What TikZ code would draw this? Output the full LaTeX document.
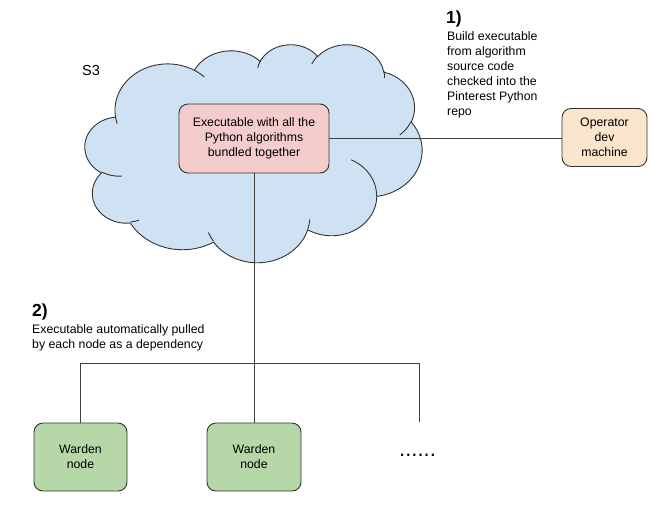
\documentclass[tikz,border=0pt]{standalone}
\usepackage{fontspec}
\setmainfont{Liberation Sans}

\definecolor{s3blue}{HTML}{CFE2F3}
\definecolor{exered}{HTML}{F4CCCC}
\definecolor{devorange}{HTML}{FCE5CD}
\definecolor{wardengreen}{HTML}{B6D7A8}
\newcommand\diagfont{\fontsize{12.3}{15}\selectfont}

\tikzset{
 declare function={cpar(\pw,\ph,\pa)=atan2(\pw*sin(\pa),\ph*cos(\pa));},
 puff/.style n args={4}{start angle={-cpar(#1,#2,#3)},
  delta angle={-mod(cpar(#1,#2,#3+#4)-cpar(#1,#2,#3)+720,360)},
  x radius={#1*0.7801pt}, y radius={#2*0.5046pt}},
 box/.style={draw=black!80,line width=0.9pt,rounded corners=9pt,align=center,font=\diagfont,inner sep=0pt},
 wire/.style={draw=black!75,line width=0.9pt},
 label/.style={inner sep=0pt,font=\diagfont},
}

\begin{document}
\begin{tikzpicture}[x=1pt,y=-1pt]
\useasboundingbox (0,0) rectangle (653,515);
% cloud
\begin{scope}[shift={(85,44)},x=0.7801pt,y=-0.5046pt]
\filldraw[fill=s3blue,draw=black!80,line width=0.9pt] (39.00,143.70)
 arc[puff={67.53}{91.90}{-190.487}{123.781}]
 arc[puff={53.33}{72.67}{-144.102}{89.945}]
 arc[puff={43.65}{59.45}{-145.808}{99.723}]
 arc[puff={48.57}{65.95}{-130.986}{117.242}]
 arc[puff={53.33}{72.73}{-78.709}{109.027}]
 arc[puff={67.75}{92.20}{-46.267}{130.269}]
 arc[puff={57.85}{78.67}{0.625}{114.033}]
 arc[puff={67.52}{92.15}{22.452}{115.173}]
 arc[puff={77.20}{105.43}{66.243}{75.711}]
 arc[puff={43.60}{59.18}{-274.942}{146.736}]
 arc[puff={43.45}{59.45}{-246.829}{152.519}] -- cycle;
\foreach \cx/\cy/\rw/\rh/\sa/\sw in {46.93/261.77/43.45/59.45/86.742/26.430,
  69.28/348.99/43.60/59.18/73.610/11.447, 164.78/390.90/67.52/92.15/137.624/14.081,
  288.27/347.51/67.52/92.15/6.453/15.998, 341.29/229.54/57.85/78.67/-70.292/70.917,
  417.98/153.54/53.33/72.73/30.318/27.752, 383.24/54.26/48.57/65.95/-13.744/14.859,
  290.78/39.52/48.57/65.95/-149.181/18.195, 221.41/47.20/43.65/59.45/-163.494/17.686,
  140.00/51.92/67.53/91.90/-66.707/12.319, 41.27/157.89/67.53/91.90/157.654/11.858}
 \draw[draw=black!80,line width=0.9pt] (\cx,\cy) arc[puff={\rw}{\rh}{\sa}{\sw}];
\end{scope}
\node[label,anchor=base west,font=\fontsize{14.5}{14.5}\selectfont] (s3) at (82,75) {S3};

\node[box,fill=exered,minimum width=150pt,minimum height=69pt] (exe) at (254,138.5)
 {Executable with all the\\Python algorithms\\bundled together};
\node[box,fill=devorange,minimum width=85pt,minimum height=58pt] (op) at (604.5,137.5)
 {Operator\\dev\\machine};
\node[box,fill=wardengreen,minimum width=93pt,minimum height=68pt] (warden1) at (80.5,457) {Warden\\node};
\node[box,fill=wardengreen,minimum width=94pt,minimum height=68pt] (warden2) at (254,457) {Warden\\node};
\node[label,anchor=base west,font=\fontsize{22}{22}\selectfont] (dots) at (399,456.5) {......};
\coordinate (bus) at (254,363);
\coordinate (more) at (419,422);

\draw[wire] (exe.east) -- (exe.east -| op.west);
\draw[wire] (exe.south) -- (warden2.north);
\draw[wire] (warden1.north) |- (more |- bus) -- (more);

% steps
\node[label,anchor=base west,font=\bfseries\fontsize{17.5}{17.5}\selectfont] (step1) at (446,23.3) {1)};
\node[label,anchor=north west,align=left] (step1 text) at (447,31.5)
 {Build executable\\from algorithm\\source code\\checked into the\\Pinterest Python\\repo};
\node[label,anchor=base west,font=\bfseries\fontsize{17.5}{17.5}\selectfont] (step2) at (32,316.7) {2)};
\node[label,anchor=north west,align=left] (step2 text) at (32,324.5)
 {Executable automatically pulled\\by each node as a dependency};
\end{tikzpicture}
\end{document}
